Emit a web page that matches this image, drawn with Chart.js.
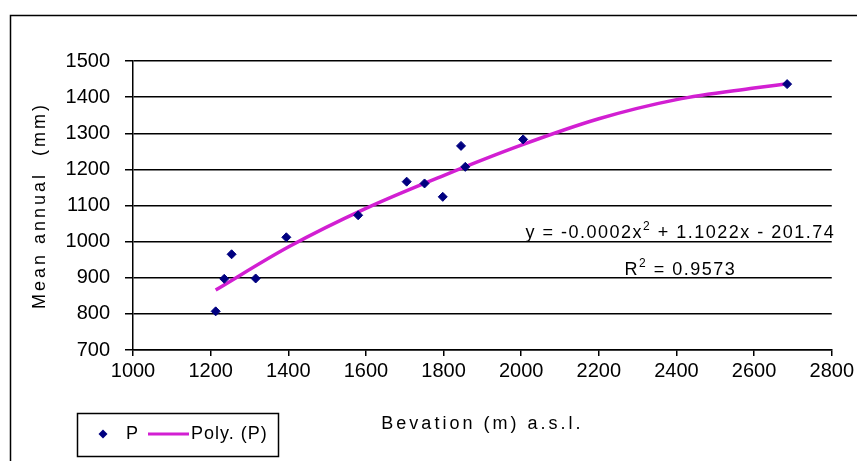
<!DOCTYPE html>
<html>
<head>
<meta charset="utf-8">
<script src="https://cdn.jsdelivr.net/npm/chart.js@4.4.1/dist/chart.umd.min.js"></script>
<style>
    html, body { margin: 0; padding: 0; background: #fff; }
</style>
</head>
<body>
<canvas id="PrecipitationChart" width="857" height="461"></canvas>
<script>
// values
const elevation = [1213, 1235, 1254, 1316, 1395, 1580, 1705, 1751, 1798, 1845, 1856, 2005, 2685];
const precipitation = [807, 897, 965, 898, 1012, 1073, 1166, 1161, 1124, 1265, 1207, 1283, 1436];

// trend line as drawn in the picture
const trendElevation = [1213, 1400, 1600, 1800, 2000, 2200, 2400, 2600, 2685];
const trendValues = [866, 985, 1092, 1183, 1267, 1340, 1393, 1425, 1437];

const xTicks = [1000, 1200, 1400, 1600, 1800, 2000, 2200, 2400, 2600, 2800];
const yTicks = [700, 800, 900, 1000, 1100, 1200, 1300, 1400, 1500];

const xTitle = 'Bevation (m) a.s.l.';
const yTitle = 'Mean annual  (mm)';
const equation = ['y = -0.0002x', '2', ' + 1.1022x - 201.74'];
const rSquared = ['R', '2', ' = 0.9573'];

const FONT = '"Liberation Sans", Arial, sans-serif';
const NAVY = '#000080';
const MAGENTA = '#d21fd2';

const framePlugin = {
    id: 'frame',
    beforeDraw: (chart) => {
        const ctx = chart.ctx;
        ctx.save();
        ctx.fillStyle = '#fff';
        ctx.fillRect(0, 0, chart.width, chart.height);
        ctx.strokeStyle = '#000';
        ctx.lineWidth = 1.5;
        ctx.beginPath();
        ctx.moveTo(10.5, chart.height + 2);
        ctx.lineTo(10.5, 15.5);
        ctx.lineTo(chart.width + 2, 15.5);
        ctx.stroke();
        ctx.restore();
    }
};

// draws text pieces, with the middle one as a superscript
const drawSuper = (ctx, parts, centerX, baseY) => {
    ctx.font = `18px ${FONT}`;
    const w0 = ctx.measureText(parts[0]).width;
    const w2 = ctx.measureText(parts[2]).width;
    ctx.font = `12px ${FONT}`;
    const w1 = ctx.measureText(parts[1]).width;
    let x = centerX - (w0 + w1 + w2) / 2;
    ctx.font = `18px ${FONT}`;
    ctx.fillText(parts[0], x, baseY);
    x += w0;
    ctx.font = `12px ${FONT}`;
    ctx.fillText(parts[1], x, baseY - 8);
    x += w1;
    ctx.font = `18px ${FONT}`;
    ctx.fillText(parts[2], x, baseY);
};

const textPlugin = {
    id: 'texts',
    afterDraw: (chart) => {
        const ctx = chart.ctx;
        const { x, y } = chart.scales;
        const area = chart.chartArea;
        ctx.save();
        ctx.fillStyle = '#000';
        ctx.textBaseline = 'alphabetic';
        ctx.textAlign = 'left';

        // trend line equation
        ctx.letterSpacing = '1.5px';
        const cx = x.getPixelForValue(2410);
        drawSuper(ctx, equation, cx, y.getPixelForValue(1000) - 4);
        drawSuper(ctx, rSquared, cx, y.getPixelForValue(1000) + 33);

        // axis titles
        ctx.letterSpacing = '3px';
        ctx.font = `18px ${FONT}`;
        ctx.textAlign = 'center';
        ctx.textBaseline = 'middle';
        ctx.fillText(xTitle, (area.left + area.right) / 2, 424);
        ctx.translate(40, (area.top + area.bottom) / 2);
        ctx.rotate(-Math.PI / 2);
        ctx.fillText(yTitle, 0, 0);
        ctx.restore();

        // legend
        const sets = chart.data.datasets;
        ctx.save();
        ctx.strokeStyle = '#000';
        ctx.lineWidth = 1.5;
        ctx.strokeRect(77.5, 413.5, 201, 43);
        const ly = 434;
        ctx.fillStyle = sets[0].backgroundColor;
        ctx.beginPath();
        ctx.moveTo(103, ly - 4.5);
        ctx.lineTo(107.5, ly);
        ctx.lineTo(103, ly + 4.5);
        ctx.lineTo(98.5, ly);
        ctx.closePath();
        ctx.fill();
        ctx.strokeStyle = sets[1].borderColor;
        ctx.lineWidth = 3;
        ctx.beginPath();
        ctx.moveTo(148, ly);
        ctx.lineTo(189, ly);
        ctx.stroke();
        ctx.fillStyle = '#000';
        ctx.font = `18px ${FONT}`;
        ctx.letterSpacing = '1px';
        ctx.textBaseline = 'middle';
        ctx.textAlign = 'left';
        ctx.fillText(sets[0].label, 126, ly);
        ctx.fillText(sets[1].label, 191, ly);
        ctx.restore();
    }
};

const canvas = document
    .getElementById('PrecipitationChart')
    .getContext('2d');

new Chart(canvas, {
    type: 'scatter',
    data: {
        datasets: [
            {
                label: 'P',
                data: elevation.map((e, i) => ({ x: e, y: precipitation[i] })),
                backgroundColor: NAVY,
                borderColor: NAVY,
                pointStyle: 'rectRot',
                pointRadius: 4.5,
                pointHoverRadius: 4.5,
                order: 0
            },
            {
                label: 'Poly. (P)',
                type: 'line',
                data: trendElevation.map((e, i) => ({ x: e, y: trendValues[i] })),
                borderColor: MAGENTA,
                borderWidth: 3.5,
                fill: false,
                cubicInterpolationMode: 'monotone',
                pointRadius: 0,
                pointHoverRadius: 0,
                order: 1
            }
        ]
    },
    options: {
        responsive: false,
        animation: false,
        events: [],
        layout: {
            padding: { top: 61, right: 24, left: 0, bottom: 0 }
        },
        plugins: {
            legend: { display: false },
            tooltip: { enabled: false }
        },
        scales: {
            x: {
                type: 'linear',
                min: 1000,
                max: 2800,
                afterFit: (scale) => { scale.height = 111; },
                afterBuildTicks: (scale) => { scale.ticks = xTicks.map(v => ({ value: v })); },
                ticks: {
                    color: '#000',
                    padding: 3,
                    font: { family: FONT, size: 20 },
                    callback: (value) => String(value)
                },
                grid: {
                    drawOnChartArea: false,
                    color: '#000',
                    lineWidth: 1.5,
                    tickLength: 6
                },
                border: { color: '#000', width: 1.5 }
            },
            y: {
                min: 700,
                max: 1500,
                afterFit: (scale) => { scale.width = 133; },
                afterBuildTicks: (scale) => { scale.ticks = yTicks.map(v => ({ value: v })); },
                ticks: {
                    color: '#000',
                    padding: 15,
                    font: { family: FONT, size: 20 },
                    callback: (value) => String(value)
                },
                grid: {
                    color: '#000',
                    lineWidth: 1.5,
                    tickLength: 8
                },
                border: { color: '#000', width: 1.5 }
            }
        }
    },
    plugins: [framePlugin, textPlugin]
});
</script>
</body>
</html>
